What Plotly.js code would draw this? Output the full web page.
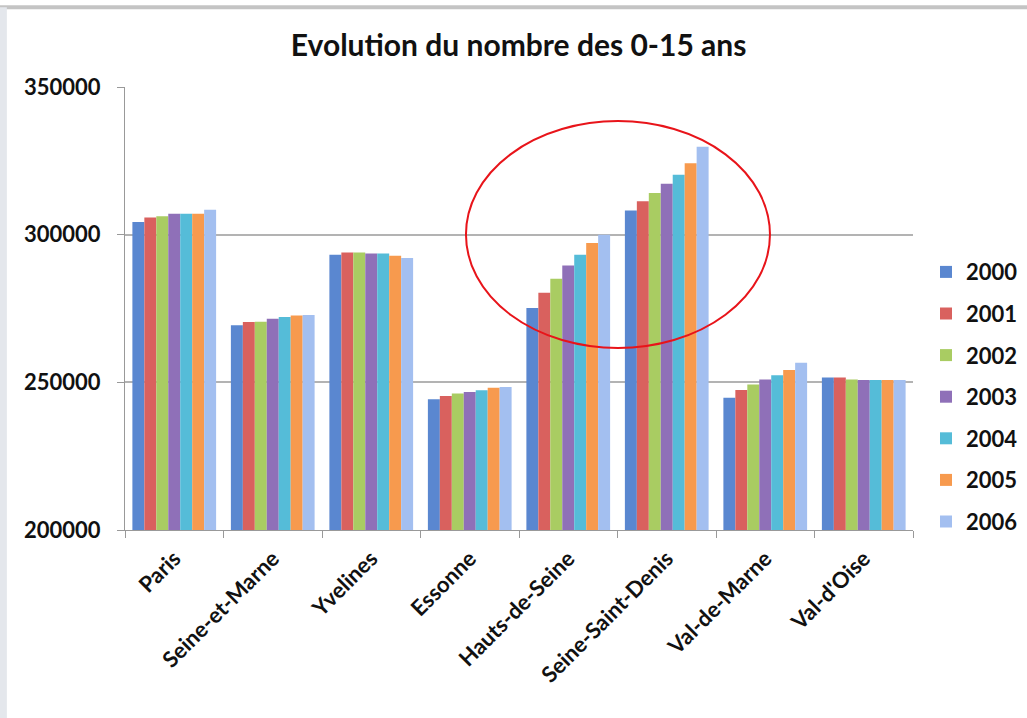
<!DOCTYPE html>
<html>
<head>
<meta charset="utf-8">
<script src="https://cdn.plot.ly/plotly-3.0.1.min.js"></script>
<style>
html,body{margin:0;padding:0;background:#fff;}
#chart{width:1027px;height:718px;}
</style>
</head>
<body>
<div id="chart"></div>
<script>
const categories = ["Paris","Seine-et-Marne","Yvelines","Essonne","Hauts-de-Seine","Seine-Saint-Denis","Val-de-Marne","Val-d'Oise"];
const years = ["2000","2001","2002","2003","2004","2005","2006"];
const v2000 = [304300, 269300, 293200, 244300, 275200, 308200, 244800, 251600];
const v2001 = [305800, 270400, 294000, 245400, 280300, 311300, 247400, 251600];
const v2002 = [306200, 270500, 294000, 246200, 285100, 314100, 249300, 251000];
const v2003 = [307100, 271500, 293600, 246700, 289600, 317200, 251000, 250800];
const v2004 = [307100, 272100, 293600, 247300, 293200, 320300, 252400, 250800];
const v2005 = [307100, 272600, 292900, 248200, 297200, 324200, 254200, 250800];
const v2006 = [308400, 272800, 292100, 248400, 300000, 329800, 256600, 250800];
const series = [v2000, v2001, v2002, v2003, v2004, v2005, v2006];
const colors = ["#5a87d0", "#d9615e", "#a9cc62", "#8f70b8", "#55bcd8", "#f79a4e", "#a3bff0"];

const traces = years.map((y, i) => ({
  type: "bar",
  name: y,
  x: categories,
  y: series[i],
  legendgroup: "g" + i,
  marker: {color: colors[i], line: {width: 0}},
  base: 0
}));

const FONT = "Lato, 'Open Sans', sans-serif";

const layout = {
  width: 1027, height: 718,
  paper_bgcolor: "#fff", plot_bgcolor: "#fff",
  margin: {l: 125, r: 114, t: 87, b: 188, autoexpand: false},
  title: {text: "Evolution du nombre des 0-15 ans", x: 0.505, xanchor: "center", y: 0.937, yanchor: "middle",
    font: {family: FONT, size: 30, color: "#111", weight: "bold"}},
  barmode: "group", bargap: 0.15, bargroupgap: 0,
  xaxis: {
    tickangle: -45, ticks: "outside", tickson: "boundaries", ticklen: 7, tickcolor: "#999",
    ticklabelstandoff: 6,
    showline: true, linecolor: "#999", linewidth: 1, showgrid: false,
    tickfont: {family: FONT, size: 22, color: "#111", weight: "bold"}
  },
  yaxis: {
    range: [200000, 350000], tickvals: [200000, 250000, 300000, 350000],
    ticktext: ["200000", "250000", "300000", "350000"],
    ticks: "outside", ticklen: 7, tickcolor: "#999", ticklabelstandoff: 12,
    showline: true, linecolor: "#999", linewidth: 1,
    showgrid: true, gridcolor: "#b3b3b3", gridwidth: 2, zeroline: false,
    tickfont: {family: FONT, size: 22, color: "#111", weight: "bold"}
  },
  legend: {
    x: 1.0165, xanchor: "left", y: 0.30, yanchor: "middle",
    traceorder: "grouped", tracegroupgap: 10,
    font: {family: FONT, size: 22, color: "#111", weight: "bold"},
    itemwidth: 30
  },
  shapes: [
    {type: "circle", xref: "paper", yref: "paper", x0: 0.4327, x1: 0.8185, y0: 0.4108, y1: 0.923,
     line: {color: "#e8141a", width: 2}},
    {type: "line", xref: "paper", yref: "paper", x0: -0.16, x1: 1.15, y0: 1.18, y1: 1.18,
     line: {color: "#c4c4c4", width: 4}},
    {type: "line", xref: "paper", yref: "paper", x0: -0.155, x1: -0.155, y0: -0.43, y1: 1.18,
     line: {color: "#e4e7ec", width: 8}}
  ]
};

Plotly.newPlot("chart", traces, layout, {displayModeBar: false, staticPlot: true});
</script>
</body>
</html>
